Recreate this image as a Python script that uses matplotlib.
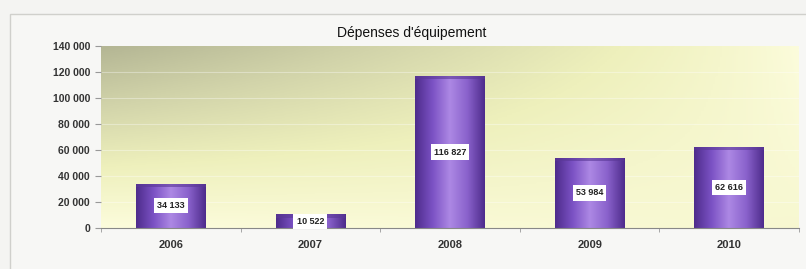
import numpy as np
import matplotlib.pyplot as plt
from matplotlib.colors import LinearSegmentedColormap
from matplotlib.patches import Rectangle

years = ['2006', '2007', '2008', '2009', '2010']
depenses = [34133, 10522, 116827, 53984, 62616]
y_ticks = [0, 20000, 40000, 60000, 80000, 100000, 120000, 140000]
title = "Dépenses d'équipement"


def fmt(v):
    return f"{v:,}".replace(',', ' ')


plt.rcParams['font.family'] = ['Liberation Sans', 'DejaVu Sans']

fig = plt.figure(figsize=(8.06, 2.69), dpi=100)
fig.patch.set_facecolor('#f4f4f2')
# outer frame
fig.patches.append(Rectangle((10 / 806, -0.01), 1, 1.01 - 14 / 269, transform=fig.transFigure,
                             facecolor='#f7f7f5', edgecolor='#d0d0cc', lw=1, zorder=-5))

ax = fig.add_axes([101 / 806, 41 / 269, 698 / 806, 182 / 269])
ax.set_zorder(2)
ax.set_xlim(-0.5, len(years) - 0.5)
ax.set_ylim(0, 140000)

# plot area gradient: olive top-left fading to pale yellow
gx, gy = np.meshgrid(np.linspace(0, 1, 300), np.linspace(1, 0, 120))
t = np.clip(1.0 * gy * (1 - gx) ** 0.8 + 0.12 * gx * (1 - gy), 0, 1)
bg = LinearSegmentedColormap.from_list('bg', ['#fcfcdc', '#eef0bc', '#d2d4aa', '#b4b694'])
ax.imshow(t, cmap=bg, aspect='auto', extent=[-0.5, 4.5, 0, 140000],
          origin='upper', zorder=0, vmin=0, vmax=1)

for yv in y_ticks[1:-1]:
    ax.axhline(yv, color='#ffffff', alpha=0.35, lw=0.8, zorder=1)

# bars with cylindrical purple shading
purple = LinearSegmentedColormap.from_list('pur', ['#4e2c8c', '#7b52c4', '#ad88e4', '#8a62cc', '#4e2c8c'])
xs = np.arange(len(years))
bars = ax.bar(xs, depenses, width=0.5, color='none', zorder=2)
shade = np.tile(np.linspace(0, 1, 200), (2, 1))
for b in bars:
    x0, w, h = b.get_x(), b.get_width(), b.get_height()
    im = ax.imshow(shade, cmap=purple, aspect='auto', extent=[x0, x0 + w, 0, h], zorder=2)
    im.set_clip_path(b)
    ax.add_patch(Rectangle((x0, h - 2500), w, 2500, color='#5a3896', alpha=0.6, zorder=3, lw=0))

for x, v in zip(xs, depenses):
    ax.text(x, v / 2, fmt(v), ha='center', va='center', fontsize=6.5, fontweight='bold',
            color='#222222', zorder=4,
            bbox=dict(boxstyle='square,pad=0.35', fc='white', ec='none'))

ax.set_yticks(y_ticks)
ax.set_yticklabels([fmt(v) for v in y_ticks], fontsize=7.5, fontweight='bold', color='#333333')
ax.set_xticks(xs)
ax.set_xticklabels(years, fontsize=8, fontweight='bold', color='#333333')
ax.set_xticks(np.arange(-0.5, len(years)), minor=True)
ax.tick_params(axis='x', which='major', length=0, pad=9)
ax.tick_params(axis='x', which='minor', length=3, color='#999999')
ax.tick_params(axis='y', length=4, color='#999999', pad=4)

for s in ['top', 'right', 'left']:
    ax.spines[s].set_visible(False)
ax.spines['bottom'].set_color('#888888')

fig.text(412 / 806, 1 - 33 / 269, title, ha='center', va='center', fontsize=10,
         color='#111111')

fig.savefig('out.png', dpi=100, facecolor=fig.get_facecolor())
